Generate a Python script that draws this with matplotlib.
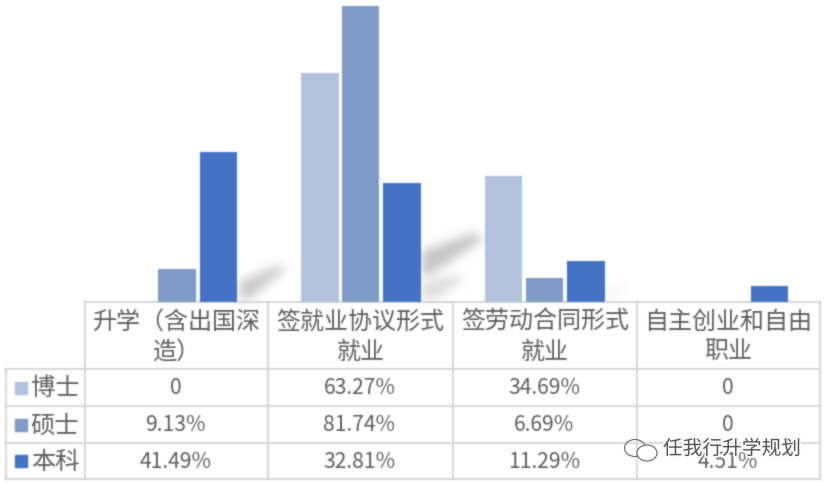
import matplotlib
matplotlib.use("Agg")
import numpy as np
import matplotlib.pyplot as plt
import matplotlib.patheffects as pe
from matplotlib.patches import Ellipse, Polygon, Rectangle

plt.rcParams["font.family"] = ["Noto Sans CJK SC", "DejaVu Sans"]

categories = ["升学（含出国深\n造）", "签就业协议形式\n就业", "签劳动合同形式\n就业", "自主创业和自由\n职业"]
series_names = ["博士", "硕士", "本科"]
boshi = [0, 63.27, 34.69, 0]
shuoshi = [9.13, 81.74, 6.69, 0]
benke = [41.49, 32.81, 11.29, 4.51]
boshi_labels = ["0", "63.27%", "34.69%", "0"]
shuoshi_labels = ["9.13%", "81.74%", "6.69%", "0"]
benke_labels = ["41.49%", "32.81%", "11.29%", "4.51%"]
colors = ["#B3C2DD", "#7F9BC7", "#4472C4"]
text_color = "#5F5F5F"
grid_color = "#DADADA"

W, H = 828, 485
col_x = [85, 268, 453, 637, 820]
row_y = [303, 370, 407, 444, 480]


def blur(sigma):
    # agg filter, the reference is a soft, upscaled screenshot
    radius = int(3 * sigma) + 1
    kernel = np.exp(-0.5 * (np.arange(-radius, radius + 1) / sigma) ** 2)
    kernel /= kernel.sum()

    def apply(image, dpi):
        img = np.pad(image, ((radius, radius), (radius, radius), (0, 0)))
        rgb = img[:, :, :3] * img[:, :, 3:]
        stack = np.dstack([rgb, img[:, :, 3]])
        stack = np.apply_along_axis(lambda v: np.convolve(v, kernel, mode="same"), 0, stack)
        stack = np.apply_along_axis(lambda v: np.convolve(v, kernel, mode="same"), 1, stack)
        alpha = stack[:, :, 3:]
        out_rgb = np.where(alpha > 1e-4, stack[:, :, :3] / np.maximum(alpha, 1e-4), 0)
        return np.clip(np.dstack([out_rgb, alpha]), 0, 1), -radius, -radius

    return apply


fig = plt.figure(figsize=(W / 100, H / 100), dpi=100)

# table and decoration layer, in pixels
bg = fig.add_axes([0, 0, 1, 1])
bg.set_xlim(0, W)
bg.set_ylim(H, 0)
bg.axis("off")


def shadow(points, alpha, sigma=5):
    patch = Polygon(points, closed=True, facecolor="#808080", edgecolor="none", alpha=alpha)
    patch.set_agg_filter(blur(sigma))
    bg.add_patch(patch)


shadow([(238, 300), (240, 282), (280, 266), (286, 270), (250, 300)], 0.42)
shadow([(421, 276), (422, 252), (474, 234), (484, 240), (430, 276)], 0.45)
shadow([(421, 300), (422, 284), (460, 276), (462, 282), (434, 300)], 0.28)
shadow([(606, 300), (607, 292), (622, 286), (624, 291)], 0.12)

# bars
ax = fig.add_axes([col_x[0] / W, 1 - 303 / H, (col_x[4] - col_x[0]) / W, 303 / H])
ax.patch.set_alpha(0)
offsets = [-0.222, 0, 0.226]
for values, name, color, off in zip([boshi, shuoshi, benke], series_names, colors, offsets):
    bars = ax.bar([i + off for i in range(len(categories))], values, width=0.205, color=color, label=name)
    for b in bars:
        b.set_agg_filter(blur(0.7))
ax.set_xlim(-0.5, 3.5)
ax.set_ylim(0, 83.7)
ax.axis("off")

# table grid
grid_lines = []
for x in col_x:
    grid_lines += bg.plot([x, x], [row_y[0], row_y[-1]], color=grid_color, lw=1.5)
grid_lines += bg.plot([6, 6], [row_y[1], row_y[-1]], color=grid_color, lw=1.5)
grid_lines += bg.plot([col_x[0], col_x[-1]], [row_y[0], row_y[0]], color=grid_color, lw=1.5)
for y in row_y[1:]:
    grid_lines += bg.plot([6, col_x[-1]], [y, y], color=grid_color, lw=1.5)
for line in grid_lines:
    line.set_agg_filter(blur(0.6))

# table text
texts = []
for i, cat in enumerate(categories):
    xc = (col_x[i] + col_x[i + 1]) / 2
    texts.append(bg.text(xc, (row_y[0] + row_y[1]) / 2, cat, ha="center", va="center", fontsize=17.3,
                         color=text_color, linespacing=1.2))

rows = [boshi_labels, shuoshi_labels, benke_labels]
for r, labels in enumerate(rows):
    yc = (row_y[r + 1] + row_y[r + 2]) / 2
    swatch = Rectangle((15, yc - 6), 12, 12, color=colors[r])
    swatch.set_agg_filter(blur(0.7))
    bg.add_patch(swatch)
    texts.append(bg.text(55, yc, series_names[r], ha="center", va="center", fontsize=17.5, color=text_color))
    for i, lab in enumerate(labels):
        xc = (col_x[i] + col_x[i + 1]) / 2
        texts.append(bg.text(xc - 1, yc, lab, ha="center", va="center", fontsize=15.2, color=text_color))
for t in texts:
    t.set_agg_filter(blur(0.6))

# watermark
halo = [pe.withStroke(linewidth=2.5, foreground="white")]
bg.add_patch(Ellipse((635, 449), 21, 17, fill=False, ec="#777777", lw=0.9, zorder=4))
bg.add_patch(Ellipse((647, 454), 20, 16, facecolor="white", ec="#777777", lw=0.9, zorder=4))
mark = bg.text(732, 450, "任我行升学规划", ha="center", va="center", fontsize=14.2, color="#4F4F4F",
               path_effects=halo, zorder=5)
mark.set_agg_filter(blur(0.4))

fig.savefig("out.png", dpi=100)
